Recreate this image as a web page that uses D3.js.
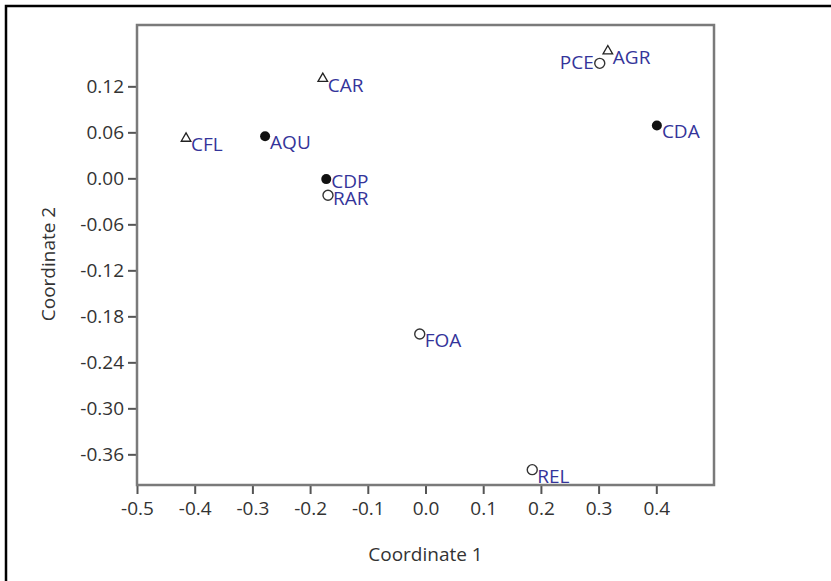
<!DOCTYPE html>
<html>
<head>
<meta charset="utf-8">
<script src="https://cdn.jsdelivr.net/npm/d3@7"></script>
<style>
  body { margin: 0; background: #fff; }
  text { font-family: "Open Sans", "Noto Sans", sans-serif; }
</style>
</head>
<body>
<div id="chart"></div>
<script>
var names = ["CFL", "AQU", "CAR", "CDP", "RAR", "FOA", "REL", "PCE", "AGR", "CDA"];
var coord1 = [-0.415, -0.278, -0.178, -0.172, -0.169, -0.010, 0.185, 0.302, 0.316, 0.401];
var coord2 = [0.052, 0.055, 0.130, -0.001, -0.022, -0.203, -0.380, 0.150, 0.166, 0.069];
var shapes = ["triangle", "dot", "triangle", "dot", "circle", "circle", "circle", "circle", "triangle", "dot"];
var xTicks = [-0.5, -0.4, -0.3, -0.2, -0.1, 0.0, 0.1, 0.2, 0.3, 0.4];
var yTicks = [0.12, 0.06, 0.00, -0.06, -0.12, -0.18, -0.24, -0.30, -0.36];

var width = 831, height = 581;
var plotL = 137, plotR = 714, plotT = 25, plotB = 485;

// label placement tweaks (pixels, relative to the marker)
var labelPos = {
  PCE: { dx: -6, dy: 6, anchor: 'end' },
  CDP: { dx: 5, dy: 9, anchor: 'start' },
  RAR: { dx: 5, dy: 10, anchor: 'start' }
};
var defaultPos = { dx: 5, dy: 13, anchor: 'start' };
var pos = (d) => labelPos[d.name] || defaultPos;

var svg = d3.select('#chart')
  .append('svg')
  .attr('width', width)
  .attr('height', height);

// outer frame (only top and left visible)
svg.append('path')
  .attr('d', 'M6,' + height + 'V6H' + width)
  .attr('fill', 'none')
  .attr('stroke', '#000')
  .attr('stroke-width', 2.5);

var x = d3.scaleLinear().domain([-0.5, 0.5]).range([plotL, plotR]);
var y = d3.scaleLinear().domain([-0.4, 0.2]).range([plotB, plotT]);

var xAxis = d3.axisBottom(x).tickValues(xTicks).tickSize(9).tickPadding(8)
  .tickFormat((d) => d.toFixed(1));
var yAxis = d3.axisLeft(y).tickValues(yTicks).tickSize(9).tickPadding(4)
  .tickFormat((d) => d.toFixed(2));

var gx = svg.append('g')
  .attr('transform', 'translate(0,' + plotB + ')')
  .call(xAxis);
var gy = svg.append('g')
  .attr('transform', 'translate(' + plotL + ',0)')
  .call(yAxis);

[gx, gy].forEach(function (g) {
  g.select('.domain').remove();
  g.selectAll('line').attr('stroke', '#555').attr('stroke-width', 2);
  g.selectAll('text')
    .attr('fill', '#333')
    .style('font-size', '19px');
});

// plot box
svg.append('rect')
  .attr('x', plotL)
  .attr('y', plotT)
  .attr('width', plotR - plotL)
  .attr('height', plotB - plotT)
  .attr('fill', 'none')
  .attr('stroke', '#7a7a7a')
  .attr('stroke-width', 2.5);

svg.append('text')
  .attr('x', (plotL + plotR) / 2)
  .attr('y', 561)
  .attr('text-anchor', 'middle')
  .attr('fill', '#333')
  .style('font-size', '19px')
  .text('Coordinate 1');

svg.append('text')
  .attr('transform', 'translate(55,264) rotate(-90)')
  .attr('text-anchor', 'middle')
  .attr('fill', '#333')
  .style('font-size', '19px')
  .text('Coordinate 2');

var data = names.map(function (n, i) {
  return { name: n, c1: coord1[i], c2: coord2[i], shape: shapes[i] };
});

var triangle = d3.symbol().type(d3.symbolTriangle).size(40);

var pts = svg.selectAll('.pt')
  .data(data)
  .enter()
  .append('g')
  .attr('class', 'pt')
  .attr('transform', (d) => 'translate(' + x(d.c1) + ',' + y(d.c2) + ')');

pts.each(function (d) {
  var g = d3.select(this);
  if (d.shape === 'triangle') {
    g.append('path')
      .attr('d', triangle)
      .attr('fill', '#fff')
      .attr('stroke', '#222')
      .attr('stroke-width', 1.3);
  } else if (d.shape === 'dot') {
    g.append('circle').attr('r', 5).attr('fill', '#111');
  } else {
    g.append('circle')
      .attr('r', 5)
      .attr('fill', '#fff')
      .attr('stroke', '#333')
      .attr('stroke-width', 1.4);
  }
});

pts.append('text')
  .attr('x', (d) => pos(d).dx)
  .attr('y', (d) => pos(d).dy)
  .attr('text-anchor', (d) => pos(d).anchor)
  .attr('fill', '#34349a')
  .style('font-size', '19px')
  .text((d) => d.name);
</script>
</body>
</html>
